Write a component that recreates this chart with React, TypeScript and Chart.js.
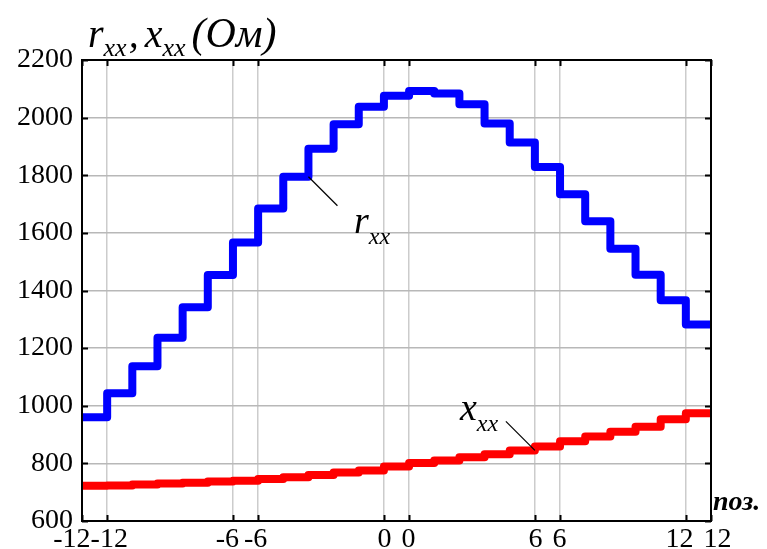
import React, { useEffect, useRef } from "react";
import { Chart, registerables } from "chart.js";

Chart.register(...registerables);

// Tap positions -12..12 (each drawn as a step of width 1 on an index axis 0..25)
const positions = [-12, -11, -10, -9, -8, -7, -6, -5, -4, -3, -2, -1, 0, 1, 2, 3, 4, 5, 6, 7, 8, 9, 10, 11, 12];
const rxx = [960, 1043, 1137, 1236, 1342, 1454, 1567, 1685, 1795, 1892, 1977, 2038, 2076, 2092, 2084, 2046, 1980, 1914, 1829, 1734, 1640, 1545, 1455, 1366, 1282];
const xxx = [722, 723, 727, 730, 733, 737, 740, 746, 752, 760, 768, 775, 789, 801, 810, 821, 832, 845, 859, 877, 893, 910, 927, 953, 974];
const xTickIndices = [0, 1, 6, 7, 12, 13, 18, 19, 24, 25];
const xTickLabels = ["-12", "-12", "-6", "-6", "0", "0", "6", "6", "12", "12"];
const yMin = 600;
const yMax = 2200;
const yStep = 200;

const SERIF = "'Liberation Serif', 'DejaVu Serif', serif";

function toSteps(vals: number[]) {
  const pts = vals.map((v, i) => ({ x: i, y: v }));
  pts.push({ x: vals.length, y: vals[vals.length - 1] });
  return pts;
}

type Part = { t: string; size: number; dy: number; bold?: boolean; gap?: number };
function drawRich(ctx: CanvasRenderingContext2D, x: number, y: number, parts: Part[]) {
  let cx = x;
  ctx.textBaseline = "alphabetic";
  ctx.textAlign = "left";
  for (const p of parts) {
    cx += p.gap || 0;
    ctx.font = `italic ${p.bold ? "bold " : ""}${p.size}px ${SERIF}`;
    ctx.fillText(p.t, cx, y + p.dy);
    cx += ctx.measureText(p.t).width;
  }
}

const overlay = {
  id: "overlay",
  afterDraw(chart: any) {
    const { ctx, chartArea: a, scales } = chart;
    const xs = scales.x;
    const ys = scales.y;
    ctx.save();
    // frame
    ctx.strokeStyle = "#000";
    ctx.lineWidth = 2;
    ctx.strokeRect(a.left, a.top, a.right - a.left, a.bottom - a.top);
    // inward ticks
    ctx.beginPath();
    for (const i of xTickIndices) {
      const px = Math.round(xs.getPixelForValue(i)) + 0.5;
      ctx.moveTo(px, a.bottom);
      ctx.lineTo(px, a.bottom - 6);
      ctx.moveTo(px, a.top);
      ctx.lineTo(px, a.top + 6);
    }
    for (let v = yMin; v <= yMax; v += yStep) {
      const py = Math.round(ys.getPixelForValue(v)) + 0.5;
      ctx.moveTo(a.left, py);
      ctx.lineTo(a.left + 6, py);
      ctx.moveTo(a.right, py);
      ctx.lineTo(a.right - 6, py);
    }
    ctx.stroke();

    ctx.fillStyle = "#000";
    // x tick labels, drawn in pairs so neighbouring labels don't collide
    ctx.font = `28px ${SERIF}`;
    ctx.textBaseline = "alphabetic";
    for (let k = 0; k < xTickIndices.length; k += 2) {
      const p1 = xs.getPixelForValue(xTickIndices[k]);
      const p2 = xs.getPixelForValue(xTickIndices[k + 1]);
      const neg = xTickLabels[k].startsWith("-");
      const g = k === 0 ? 0 : neg ? 5 : 10;
      const mid = (p1 + p2) / 2 + (neg ? -4 : 0);
      ctx.textAlign = "right";
      ctx.fillText(xTickLabels[k], mid - g / 2, a.bottom + 26);
      ctx.textAlign = "left";
      ctx.fillText(xTickLabels[k + 1], mid + g / 2, a.bottom + 26);
    }

    // title
    drawRich(ctx, 88, 47, [
      { t: "r", size: 40, dy: 0 },
      { t: "xx", size: 26, dy: 9 },
      { t: ",", size: 40, dy: 0, gap: 2 },
      { t: "x", size: 40, dy: 0, gap: 6 },
      { t: "xx", size: 26, dy: 9 },
      { t: "(Ом)", size: 42, dy: 0, gap: 6 },
    ]);
    // axis unit
    drawRich(ctx, 713, 510, [{ t: "поз.", size: 28, dy: 0, bold: true }]);

    // r_xx label with leader
    const rx = xs.getPixelForValue(9);
    const ry = ys.getPixelForValue(rxx[8]);
    ctx.lineWidth = 1.3;
    ctx.beginPath();
    ctx.moveTo(rx, ry);
    ctx.lineTo(rx + 29, ry + 29);
    ctx.stroke();
    drawRich(ctx, 354, 233, [
      { t: "r", size: 38, dy: 0 },
      { t: "xx", size: 24, dy: 11 },
    ]);

    // x_xx label with leader
    const qx = xs.getPixelForValue(18);
    const qy = ys.getPixelForValue(xxx[17]);
    ctx.beginPath();
    ctx.moveTo(qx, qy);
    ctx.lineTo(qx - 29, qy - 29);
    ctx.stroke();
    drawRich(ctx, 460, 420, [
      { t: "x", size: 38, dy: 0 },
      { t: "xx", size: 24, dy: 11 },
    ]);
    ctx.restore();
  },
};

export default function App() {
  const ref = useRef<HTMLCanvasElement | null>(null);
  useEffect(() => {
    document.body.style.margin = "0";
    const chart = new Chart(ref.current as HTMLCanvasElement, {
      type: "line",
      data: {
        datasets: [
          {
            label: "rxx",
            data: toSteps(rxx),
            borderColor: "#0000ff",
            borderWidth: 8,
            stepped: "before",
            pointRadius: 0,
            borderJoinStyle: "round",
            borderCapStyle: "round",
          },
          {
            label: "xxx",
            data: toSteps(xxx),
            borderColor: "#ff0000",
            borderWidth: 8,
            stepped: "before",
            pointRadius: 0,
            borderJoinStyle: "round",
            borderCapStyle: "round",
          },
        ],
      },
      options: {
        animation: false,
        responsive: false,
        maintainAspectRatio: false,
        layout: { padding: { top: 60, right: 56, left: 0, bottom: 0 } },
        plugins: { legend: { display: false }, tooltip: { enabled: false }, title: { display: false } },
        scales: {
          x: {
            type: "linear",
            min: 0,
            max: positions.length,
            afterBuildTicks: (s: any) => {
              s.ticks = xTickIndices.map((v) => ({ value: v }));
            },
            afterFit: (s: any) => {
              s.height = 28;
            },
            ticks: { display: false, autoSkip: false },
            grid: { color: "#cccccc", lineWidth: 1.5, drawTicks: false },
            border: { display: false },
          },
          y: {
            min: yMin,
            max: yMax,
            afterFit: (s: any) => {
              s.width = 82;
            },
            ticks: {
              stepSize: yStep,
              padding: 9,
              color: "#000",
              font: { family: SERIF, size: 28 },
              callback: (v: any) => String(v),
            },
            grid: { color: "#b8b8b8", lineWidth: 1.5, drawTicks: false },
            border: { display: false },
          },
        },
      },
      plugins: [overlay],
    } as any);
    return () => chart.destroy();
  }, []);
  return (
    <div style={{ width: 767, height: 549 }}>
      <canvas ref={ref} width={767} height={549} style={{ display: "block" }} />
    </div>
  );
}
